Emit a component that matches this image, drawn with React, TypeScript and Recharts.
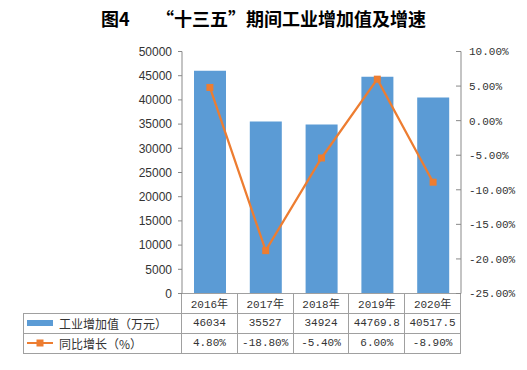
import React from "react";
import { Bar, ComposedChart, Line, XAxis, YAxis } from "recharts";

// values
const years = ["2016年", "2017年", "2018年", "2019年", "2020年"];
const valueAdded = [46034, 35527, 34924, 44769.8, 40517.5];
const growth = [4.8, -18.8, -5.4, 6.0, -8.9];
const valueLabels = ["46034", "35527", "34924", "44769.8", "40517.5"];
const growthLabels = ["4.80%", "-18.80%", "-5.40%", "6.00%", "-8.90%"];
const leftTicks = [0, 5000, 10000, 15000, 20000, 25000, 30000, 35000, 40000, 45000, 50000];
const rightTicks = [-25, -20, -15, -10, -5, 0, 5, 10];

const BLUE = "#5B9BD5";
const ORANGE = "#ED7D31";
const GRID = "#A0A0A0";
const TEXT = "#333";

const W = 527;
const H = 370;
const PLOT_LEFT = 182;
const PLOT_RIGHT = 461;
const PLOT_TOP = 51.5;
const PLOT_BOTTOM = 293.5;
const AXIS_W = 60;
const TABLE_LEFT = 23;
const ROW_H = 20;

const data = years.map((y, i) => ({
  year: y,
  value: valueAdded[i],
  growth: growth[i],
}));

const monoFont = "'Liberation Mono', 'Noto Sans CJK SC', monospace";
const cjkFont = "'Noto Sans CJK SC', sans-serif";

function SquareDot(props: any) {
  const { cx, cy } = props;
  if (cx == null || cy == null) return null;
  return <rect x={cx - 3.5} y={cy - 3.5} width={7} height={7} fill={ORANGE} />;
}

function DataTable() {
  const colW = (PLOT_RIGHT - PLOT_LEFT) / years.length;
  const firstW = PLOT_LEFT - TABLE_LEFT;
  const line = `1px solid ${GRID}`;
  const cell: React.CSSProperties = {
    boxSizing: "border-box",
    display: "flex",
    alignItems: "center",
    justifyContent: "center",
    borderRight: line,
    borderBottom: line,
    fontFamily: monoFont,
    fontSize: 11,
    color: TEXT,
    whiteSpace: "nowrap",
  };
  const labelCell: React.CSSProperties = {
    ...cell,
    justifyContent: "flex-start",
    borderLeft: line,
    fontFamily: cjkFont,
    fontSize: 12,
    paddingLeft: 3,
  };
  return (
    <div
      style={{
        position: "absolute",
        left: TABLE_LEFT,
        top: PLOT_BOTTOM,
        display: "grid",
        gridTemplateColumns: `${firstW}px repeat(${years.length}, ${colW}px)`,
        gridTemplateRows: `${ROW_H}px ${ROW_H}px ${ROW_H}px`,
      }}
    >
      <div style={{ ...cell, borderRight: line }} />
      {years.map((y) => (
        <div key={y} style={cell}>
          {y}
        </div>
      ))}

      <div style={labelCell}>
        <svg width={26} height={8} style={{ marginRight: 6 }}>
          <rect x={0} y={1} width={26} height={6} fill={BLUE} />
        </svg>
        工业增加值（万元）
      </div>
      {valueLabels.map((v) => (
        <div key={v} style={cell}>
          {v}
        </div>
      ))}

      <div style={labelCell}>
        <svg width={26} height={8} style={{ marginRight: 6 }}>
          <line x1={0} y1={4} x2={26} y2={4} stroke={ORANGE} strokeWidth={2} />
          <rect x={9.5} y={0.5} width={7} height={7} fill={ORANGE} />
        </svg>
        同比增长（%）
      </div>
      {growthLabels.map((v) => (
        <div key={v} style={cell}>
          {v}
        </div>
      ))}
    </div>
  );
}

export default function App() {
  return (
    <div
      style={{
        position: "absolute",
        left: 0,
        top: 0,
        width: W,
        height: H,
        background: "#fff",
      }}
    >
      <div
        style={{
          position: "absolute",
          left: 0,
          top: 5,
          width: W,
          textAlign: "center",
          fontFamily: cjkFont,
          fontWeight: 700,
          fontSize: 18,
          color: "#000",
          whiteSpace: "pre",
        }}
      >
        {"图4　  “十三五”期间工业增加值及增速"}
      </div>
      <ComposedChart
        width={W}
        height={H}
        data={data}
        barSize={32}
        margin={{
          top: PLOT_TOP,
          left: PLOT_LEFT - AXIS_W,
          right: W - PLOT_RIGHT - AXIS_W,
          bottom: H - PLOT_BOTTOM - 1,
        }}
      >
        <XAxis
          dataKey="year"
          tick={false}
          tickLine={false}
          height={1}
          axisLine={{ stroke: GRID }}
        />
        <YAxis
          yAxisId="left"
          width={AXIS_W}
          domain={[0, 50000]}
          ticks={leftTicks}
          interval={0}
          tickSize={4}
          tickMargin={6}
          axisLine={{ stroke: "#898989" }}
          tickLine={{ stroke: "#898989" }}
          tick={{ fontSize: 12, fill: TEXT, fontFamily: "'Liberation Sans', Arial, sans-serif" }}
        />
        <YAxis
          yAxisId="right"
          orientation="right"
          width={AXIS_W}
          domain={[-25, 10]}
          ticks={rightTicks}
          interval={0}
          tickSize={-5}
          tickMargin={13}
          axisLine={{ stroke: "#898989" }}
          tickLine={{ stroke: "#898989" }}
          tickFormatter={(v: number) => `${v.toFixed(2)}%`}
          tick={{ fontSize: 11, fill: TEXT, fontFamily: monoFont, textAnchor: "start" }}
        />
        <Bar yAxisId="left" dataKey="value" fill={BLUE} isAnimationActive={false} />
        <Line
          yAxisId="right"
          dataKey="growth"
          stroke={ORANGE}
          strokeWidth={2.25}
          dot={<SquareDot />}
          activeDot={false}
          isAnimationActive={false}
        />
      </ComposedChart>
      <DataTable />
    </div>
  );
}
